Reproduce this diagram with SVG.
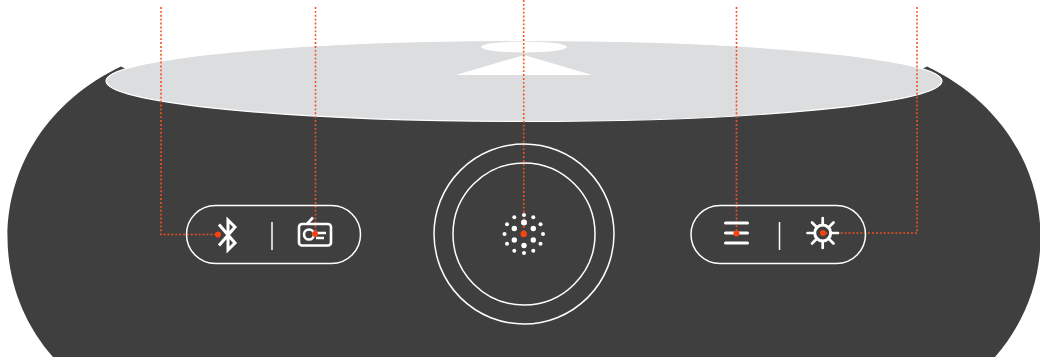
<svg xmlns="http://www.w3.org/2000/svg" width="1040" height="357" viewBox="0 0 1040 357">
<style>
.o{fill:none;stroke:#fff;stroke-width:1.5}
.w{fill:none;stroke:#fff;stroke-width:2.6}
.t{fill:none;stroke:#fff;stroke-width:3}
.m{fill:none;stroke:#fff;stroke-width:3;stroke-linecap:round}
.s{fill:none;stroke:#fff;stroke-width:2.700;stroke-linecap:round}
.d{fill:#fff}
.c{fill:none;stroke:#f5501f;stroke-width:1.6;stroke-dasharray:1.9 2}
.r{fill:#f8420f}
</style>
<rect width="1040" height="357" fill="#fff"/>
<g id="body">
<path d="M132 72L121 66.500C50 100 7.500 165 7.500 237C7.500 282 24 324 53 357L995 357C1024 324 1040.500 282 1040.500 237C1040.500 165 998 100 927 66.500L916 72Z" fill="#3f3f3f"/>
<ellipse cx="524" cy="81" rx="418" ry="40.500" fill="#dcddde" stroke="#fff" stroke-width="1.200"/>
<ellipse cx="524" cy="47" rx="43" ry="5.500" fill="#fff"/>
<polygon points="524,55 592,75 456,75" fill="#fff"/>
</g>
<g id="connectors">
<path class="c" d="M161 7V234.500H218"/>
<path class="c" d="M315.500 7V234"/>
<path class="c" d="M523.700 0V234"/>
<path class="c" d="M736.500 7V233"/>
<path class="c" d="M917 7V233H823"/>
</g>
<g id="node-left-pill">
<rect class="o" x="186.500" y="205.500" width="174" height="58" rx="29"/>
<path class="o" d="M272 222V250"/>
</g>
<g id="node-bluetooth">
<path class="t" d="M219 224.500L235 243L228 250V220L235 227L219 245.500"/>
</g>
<g id="node-radio">
<rect class="w" x="299" y="224" width="32" height="21.500" rx="3"/>
<path class="w" d="M307 224L313 217.500"/>
<circle class="w" cx="309" cy="234.500" r="5"/>
<path class="w" d="M316 233H326M316 238H324"/>
</g>
<g id="node-center">
<circle class="o" cx="524" cy="234" r="90"/>
<circle class="o" cx="524" cy="234" r="71"/>
<g class="d">
<circle cx="524" cy="215" r="2"/><circle cx="524" cy="222.500" r="3"/>
<circle cx="514.300" cy="217.300" r="2"/><circle cx="533.300" cy="217.300" r="2"/>
<circle cx="507" cy="224.300" r="2"/><circle cx="540.500" cy="224.300" r="2"/>
<circle cx="514.300" cy="228.500" r="2.700"/><circle cx="533.300" cy="228.500" r="2.700"/>
<circle cx="504.500" cy="234" r="2"/><circle cx="543" cy="234" r="2"/>
<circle cx="514.300" cy="240" r="2.700"/><circle cx="533.300" cy="240" r="2.700"/>
<circle cx="507" cy="243.700" r="2"/><circle cx="540.500" cy="243.700" r="2"/>
<circle cx="524" cy="245.500" r="2.700"/>
<circle cx="514.300" cy="250.800" r="2"/><circle cx="533.300" cy="250.800" r="2"/>
<circle cx="524" cy="253" r="2"/>
</g>
</g>
<g id="node-right-pill">
<rect class="o" x="691" y="205.500" width="174.500" height="58" rx="29"/>
<path class="o" d="M779.500 222V250"/>
</g>
<g id="node-menu">
<path class="m" d="M725.500 223H747.500M725.500 233H747.500M725.500 243H747.500"/>
</g>
<g id="node-sun">
<circle class="t" cx="822.700" cy="233" r="8"/>
<path class="s" d="M822.700 218V225M822.700 241V248M807.500 233H814.500M831 233H838M812 222.500L817 227.500M828.500 238.500L833.500 243.500M833.500 222.500L828.500 227.500M817 238.500L812 243.500"/>
</g>
<g id="connector-ends">
<circle class="r" cx="218" cy="234.500" r="3"/>
<circle class="r" cx="315" cy="234" r="3"/>
<circle class="r" cx="523.700" cy="234" r="3.200"/>
<circle class="r" cx="736.500" cy="233.500" r="3"/>
<circle class="r" cx="823" cy="233" r="3"/>
</g>
</svg>
